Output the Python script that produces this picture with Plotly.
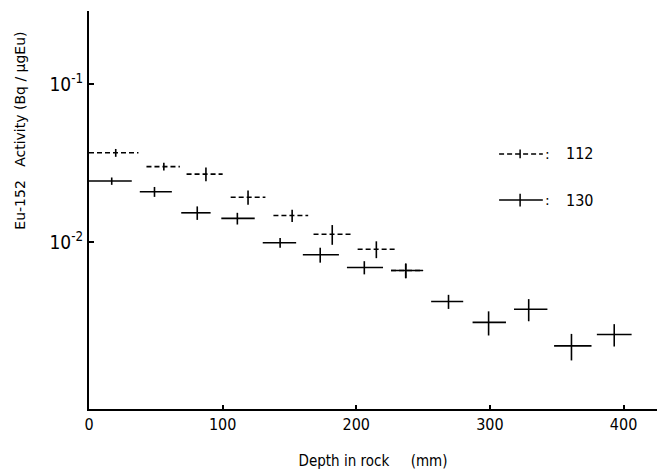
import plotly.graph_objects as go

# ---- data ----
# sample 112 (dashed)
d112_lo = [0, 43, 73, 106, 138, 168, 201, 226]
d112_c = [20, 56, 87.5, 119, 152, 182, 215, 237]
d112_hi = [37, 68, 100, 132, 164, 197, 229, 250]
a112 = [0.0367, 0.0300, 0.0269, 0.0192, 0.0147, 0.0112, 0.0090, 0.0066]
e112 = [0.0021, 0.0017, 0.0027, 0.0020, 0.0013, 0.0016, 0.0011, 0.0007]

# sample 130 (solid)
d130_lo = [0, 38, 69, 99, 130, 160, 193, 226, 256, 287, 318, 348, 380]
d130_c = [17, 49, 81, 111, 143, 173, 206, 237, 269, 299, 329, 361, 393]
d130_hi = [32, 62, 91, 124, 155, 187, 220, 250, 280, 312, 343, 376, 406]
a130 = [0.0243, 0.0208, 0.0153, 0.0141, 0.0099, 0.0083, 0.0069, 0.0066,
        0.0042, 0.0031, 0.00375, 0.0022, 0.0026]
e130 = [0.0013, 0.0015, 0.0015, 0.0012, 0.0007, 0.0009, 0.00066, 0.0007,
        0.00043, 0.00054, 0.0006, 0.00042, 0.00042]

x_ticks = [0, 100, 200, 300, 400]
y_ticks = [0.1, 0.01]
y_ticktext = ["10<sup>-1</sup>", "10<sup>-2</sup>"]
legend_labels = ["112", "130"]

FONT = "DejaVu Sans Condensed, Liberation Sans Narrow, DejaVu Sans, sans-serif"
FONT2 = "DejaVu Sans, sans-serif"


def segs(lo, hi, vals):
    xs, ys = [], []
    for a, b, v in zip(lo, hi, vals):
        xs += [a, b, None]
        ys += [v, v, None]
    return xs, ys


fig = go.Figure()

for lo, c, hi, a, e, dash in [
    (d112_lo, d112_c, d112_hi, a112, e112, "5px,3px"),
    (d130_lo, d130_c, d130_hi, a130, e130, "solid"),
]:
    xs, ys = segs(lo, hi, a)
    fig.add_trace(go.Scatter(x=xs, y=ys, mode="lines",
                             line=dict(color="black", width=1.6, dash=dash),
                             showlegend=False, hoverinfo="skip"))
    fig.add_trace(go.Scatter(x=c, y=a, mode="markers",
                             marker=dict(size=1, color="rgba(0,0,0,0)"),
                             error_y=dict(type="data", array=e, visible=True,
                                          color="black", thickness=1.6, width=0),
                             showlegend=False))

# ---- hand-drawn style legend ----
leg_y = [0.641, 0.525]
leg_half = [0.011, 0.016]
for yy, dash, hh, lab in zip(leg_y, ["5px,3px", "solid"], leg_half, legend_labels):
    fig.add_shape(type="line", xref="paper", yref="paper",
                  x0=0.722, x1=0.799, y0=yy, y1=yy,
                  line=dict(color="black", width=1.5, dash=dash))
    fig.add_shape(type="line", xref="paper", yref="paper",
                  x0=0.759, x1=0.759, y0=yy - hh, y1=yy + hh,
                  line=dict(color="black", width=1.5))
    fig.add_annotation(xref="paper", yref="paper", x=0.808, y=yy,
                       text=":", showarrow=False,
                       xanchor="center", yanchor="middle",
                       font=dict(family=FONT2, size=14, color="black"))
    fig.add_annotation(xref="paper", yref="paper", x=0.864, y=yy,
                       text=lab, showarrow=False,
                       xanchor="center", yanchor="middle",
                       font=dict(family=FONT, size=16, color="black"))

# y-axis title placed as in the reference (upper part of the axis)
fig.add_annotation(xref="paper", yref="paper", x=-0.121, y=0.70,
                   text="Eu-152&nbsp;&nbsp;&nbsp;Activity (Bq / µgEu)",
                   textangle=-90, showarrow=False,
                   xanchor="center", yanchor="middle",
                   font=dict(family=FONT2, size=14, color="black"))

fig.update_layout(
    width=657, height=473,
    margin=dict(l=89, r=0, t=11, b=64),
    paper_bgcolor="white", plot_bgcolor="white",
    font=dict(family=FONT, size=15, color="black"),
    xaxis=dict(range=[0, 425], tickvals=x_ticks, ticks="inside", ticklen=4,
               tickwidth=1.5, tickcolor="black",
               showline=True, linecolor="black", linewidth=2,
               showgrid=False, zeroline=False,
               tickfont=dict(family=FONT, size=16),
               title=dict(text="Depth in rock&nbsp;&nbsp;&nbsp;&nbsp;&nbsp;(mm)",
                          font=dict(family=FONT, size=15), standoff=22)),
    yaxis=dict(type="log", range=[-3.057, -0.538], tickvals=y_ticks,
               ticktext=y_ticktext, ticks="inside", ticklen=5, tickwidth=2,
               tickcolor="black", showline=True, linecolor="black", linewidth=2,
               showgrid=False, zeroline=False,
               tickfont=dict(family=FONT, size=19)),
)

fig.write_html("out.html")
